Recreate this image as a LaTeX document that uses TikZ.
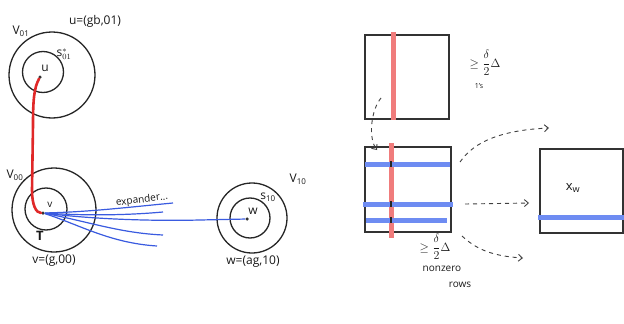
\documentclass[tikz,border=0pt]{standalone}
\usepackage{fontspec}
\setmainfont{Open Sans}
\usetikzlibrary{arrows.meta}
\definecolor{inkred}{HTML}{E02828}
\definecolor{inkblue}{HTML}{3A5BE0}
\definecolor{barred}{HTML}{F07C7C}
\definecolor{barblue}{HTML}{6E8CF2}
\begin{document}
\begin{tikzpicture}[x=1pt,y=-1pt,
  ring/.style={draw=black!85, line width=1.3pt, circle, inner sep=0pt},
  dotpt/.style={circle, fill=black!80, inner sep=0pt, minimum size=3.5pt},
  lab/.style={font=\fontsize{12}{13}\selectfont, inner sep=1pt, text=black!90},
  mat/.style={draw=black!80, line width=1.3pt, inner sep=0pt},
  redbar/.style={draw=barred, line width=5pt},
  bluebar/.style={draw=barblue, line width=5pt},
  tick/.style={draw=black!85, line width=1.4pt},
  redpath/.style={draw=inkred, line width=2.6pt, line cap=round},
  bluepath/.style={draw=inkblue, line width=1.2pt},
  darr/.style={draw=black!75, line width=0.9pt, dash pattern=on 4pt off 4pt, -{Straight Barb[length=4pt,width=7pt]}}
]
\useasboundingbox[fill=white] (0,0) rectangle (624,324);

% ---------- left circles ----------
\node[ring, minimum size=86pt] (V01) at (52,75) {};
\node[ring, minimum size=41pt] (S01) at (43,72) {};
\node[ring, minimum size=84pt] (V00) at (54,210) {};
\node[ring, minimum size=42pt] (T) at (46,209) {};
\node[ring, minimum size=70pt] (V10) at (252,218) {};
\node[ring, minimum size=40pt] (S10) at (250,218) {};

\node[dotpt] (u) at (40,77) {};
\node[dotpt] (v) at (43,213) {};
\node[dotpt] (w) at (247,219) {};

\node[lab] (ulab) at (45,68) {u};
\node[lab, font=\fontsize{10}{11}\selectfont] (vlab) at (50,205) {v};
\node[lab] (wlab) at (253,211) {w};
\node[lab] (s01lab) at (64,54) {$\mathrm{s}^{\ast}_{01}$};
\node[lab] (s10lab) at (268,197) {s\textsubscript{10}};
\node[lab] (V01lab) at (21,31) {V\textsubscript{01}};
\node[lab] (V00lab) at (15,175) {V\textsubscript{00}};
\node[lab] (V10lab) at (298,179) {V\textsubscript{10}};
\node[lab, font=\bfseries\fontsize{13}{14}\selectfont] (Tlab) at (40,236) {T};
\node[lab] (udef) at (95,21) {u=(gb,01)};
\node[lab] (vdef) at (54,261) {v=(g,00)};
\node[lab] (wdef) at (253,262) {w=(ag,10)};
\node[lab, rotate=7, font=\fontsize{10}{11}\selectfont] (exp) at (142,200) {expander...};

% red path u -> v
\draw[redpath] (u) .. controls (34,88) and (33,100) .. (33,125)
  -- (32,190) .. controls (32,205) and (36,213) .. (v);

% blue fan from v
\coordinate (b1) at (173,203);
\coordinate (b2) at (163,212);
\coordinate (b4) at (163,235);
\coordinate (b5) at (157,246);
\draw[bluepath] (v) .. controls (90,212) and (130,207) .. (b1);
\draw[bluepath] (v) .. controls (90,216) and (130,215) .. (b2);
\draw[bluepath] (v) .. controls (100,220) and (160,221) .. (200,220) -- (w);
\draw[bluepath] (v) .. controls (90,222) and (120,233) .. (b4);
\draw[bluepath] (v) .. controls (80,225) and (110,243) .. (b5);

% ---------- matrices ----------
\node[mat, minimum width=84pt, minimum height=84pt] (A) at (407,77) {};
\node[mat, minimum width=86pt, minimum height=85pt] (B) at (408,189.5) {};
\node[mat, minimum width=83pt, minimum height=84pt] (X) at (581.5,191) {};

% top matrix bar
\draw[redbar] (393,32) -- (393,120);

% middle matrix bars
\draw[redbar] (391,143) -- (391,238);
\draw[bluebar] (365,164) -- (450,164);
\draw[bluebar] (363,204) -- (453,204);
\draw[bluebar] (366,220) -- (447,220);
\draw[tick] (391,161) -- (391,167);
\draw[tick] (391,201) -- (391,207);
\draw[tick] (391,217) -- (391,223);

% right matrix bar
\draw[bluebar] (538,217) -- (624,217);
\node[lab, font=\fontsize{13}{14}\selectfont] (xw) at (573,188) {x\textsubscript{w}};

% labels by matrices
\node[lab] (topcnt) at (485,63) {$\geq\displaystyle\frac{\delta}{2}\Delta$};
\node[lab, font=\fontsize{7}{8}\selectfont] (ones) at (479,86) {1's};
\node[lab] (midcnt) at (435,247) {$\geq\displaystyle\frac{\delta}{2}\Delta$};
\node[lab, font=\fontsize{10}{11}\selectfont] (nz) at (442,269) {nonzero};
\node[lab, font=\fontsize{10}{11}\selectfont] (rows) at (460,285) {rows};

% dashed arrows
\coordinate (d0s) at (381,98);
\coordinate (d0e) at (377,150);
\draw[darr] (d0s) .. controls (371,110) and (368,138) .. (d0e);
\coordinate (d1s) at (460,162);
\coordinate (d1e) at (549,128);
\draw[darr] (d1s) .. controls (475,140) and (505,130) .. (d1e);
\coordinate (d2s) at (465,204);
\coordinate (d2e) at (529,203);
\draw[darr] (d2s) -- (d2e);
\coordinate (d3s) at (462,236);
\coordinate (d3e) at (523,258);
\draw[darr] (d3s) .. controls (475,248) and (490,256) .. (d3e);
\end{tikzpicture}
\end{document}
